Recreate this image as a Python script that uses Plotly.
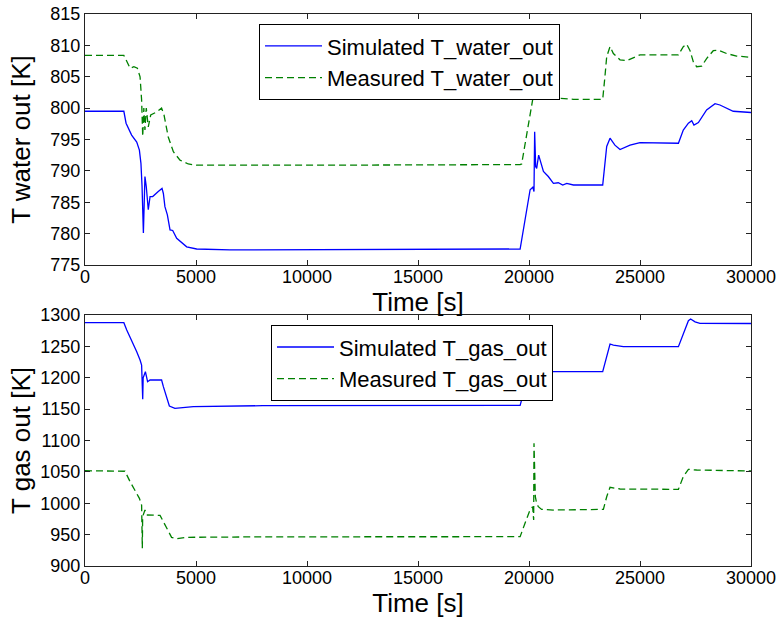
import plotly.graph_objects as go
from plotly.subplots import make_subplots

# ---- data ----
t_water_sim = [0, 1750, 1850, 2100, 2330, 2450, 2520, 2570, 2630, 2700, 2760, 2850, 2930, 3050, 3300, 3470, 3530, 3600, 3710, 3830,
               3950, 4130, 4580, 5030, 6530, 10000, 15000, 19600, 20050, 20170, 20225, 20255, 20300, 20345, 20435, 20525, 20650, 20870, 21100, 21320,
               21520, 21700, 22000, 23320, 23500, 23650, 23870, 24100, 24550, 25000, 26730, 26950, 27180, 27330, 27430, 27630, 28000, 28380, 28600, 29200, 30000]
T_water_sim = [799.5, 799.5, 797.6, 795.7, 794.6, 793.3, 791.2, 787.5, 780.1, 789.1, 787.5, 783.8, 785.9, 785.9, 786.7, 787.2, 786.4, 784.3, 783.0, 780.6,
               780.5, 779.25, 777.9, 777.55, 777.4, 777.45, 777.5, 777.55, 787.0, 787.4, 786.7, 796.25, 790.7, 790.4, 792.5, 791.2, 789.9, 789.1, 788.0, 788.1,
               787.75, 788.0, 787.75, 787.75, 793.9, 795.2, 794.1, 793.4, 794.1, 794.5, 794.4, 796.5, 797.6, 798.0, 797.3, 797.7, 799.7, 800.7, 800.5, 799.5, 799.3]

t_water_meas = [0, 1750, 1850, 2030, 2200, 2360, 2480, 2550, 2600, 2650, 2700, 2760, 2850, 2960, 3230, 3450, 3560, 3750, 3980, 4280,
                4650, 5030, 10000, 15000, 19600, 19670, 19900, 20120, 20240, 20400, 20700, 21020, 21250, 22000, 23320, 23420, 23500, 23650, 23800, 24100,
                24400, 25000, 26730, 26950, 27100, 27250, 27400, 27550, 27780, 28000, 28300, 28530, 28900, 29350, 30000]
T_water_meas = [808.4, 808.4, 807.7, 806.35, 806.6, 806.35, 805.0, 801.3, 795.5, 800.0, 796.5, 800.0, 797.0, 798.9, 799.4, 800.0, 798.9, 795.4, 793.05, 791.7,
                791.1, 790.9, 790.9, 790.9, 791.0, 791.1, 796.0, 800.2, 802.9, 802.5, 802.0, 801.8, 801.6, 801.4, 801.4, 805.0, 808.2, 809.8, 808.7, 807.7,
                807.55, 808.5, 808.5, 809.8, 810.2, 809.2, 807.4, 806.6, 806.7, 807.9, 809.15, 809.25, 808.7, 808.3, 808.1]

t_gas_sim = [0, 1750, 1880, 2100, 2330, 2480, 2550, 2600, 2620, 2720, 2820, 2930, 3450, 3530, 3680, 3800, 4050, 4880, 8000, 15000,
             19600, 19750, 20000, 20300, 21000, 23320, 23650, 23800, 24250, 26730, 26950, 27180, 27280, 27480, 27700, 30000]
T_gas_sim = [1287.8, 1287.8, 1276.1, 1260.2, 1241.5, 1228.3, 1220.3, 1165.6, 1200, 1209.7, 1193.7, 1196.4, 1196.4, 1185.8, 1169.8, 1155, 1151.3, 1153.9, 1155.5, 1155.5,
             1156, 1175.2, 1195, 1208, 1209.7, 1209.7, 1253.8, 1252, 1249.5, 1249.5, 1270.8, 1291, 1293.6, 1289, 1286.7, 1286.5]

t_gas_meas = [0, 1750, 1800, 2030, 2250, 2450, 2550, 2582, 2597, 2700, 2780, 3380, 3530, 3710, 3900, 4130, 4580, 8000, 15000, 19600,
              19820, 20045, 20165, 20210, 20225, 20255, 20285, 20345, 20420, 20570, 21100, 23350, 23500, 23650, 24100, 26730, 26950, 27180, 27550, 30000]
T_gas_meas = [1051.9, 1051.9, 1051, 1034.4, 1021.1, 1007.8, 997.2, 928.2, 978.6, 989.2, 981.3, 980.7, 970.6, 957.4, 945.7, 943.5, 945.7, 946.5, 946.7, 946.7,
              968, 989.2, 994.5, 973.3, 1095.5, 1030, 1010.4, 999.8, 994.5, 990.2, 989.2, 990.2, 1010.4, 1025.4, 1022.7, 1022.2, 1042.3, 1054, 1053, 1051.4]

x_ticks = [0, 5000, 10000, 15000, 20000, 25000, 30000]
x_tick_labels = ["0", "5000", "10000", "15000", "20000", "25000", "30000"]
y_ticks_water = [775, 780, 785, 790, 795, 800, 805, 810, 815]
y_ticks_gas = [900, 950, 1000, 1050, 1100, 1150, 1200, 1250, 1300]

FONT = "Liberation Sans, Arial, sans-serif"
BLUE = "#0000ff"
GREEN = "#008000"

fig = make_subplots(rows=2, cols=1, vertical_spacing=0.0)

fig.add_trace(go.Scatter(x=t_water_sim, y=T_water_sim, mode="lines", name="Simulated T_water_out",
                         line=dict(color=BLUE, width=1.3), legend="legend"), row=1, col=1)
fig.add_trace(go.Scatter(x=t_water_meas, y=T_water_meas, mode="lines", name="Measured T_water_out",
                         line=dict(color=GREEN, width=1.3, dash="7px,4px"), legend="legend"), row=1, col=1)
fig.add_trace(go.Scatter(x=t_gas_sim, y=T_gas_sim, mode="lines", name="Simulated T_gas_out",
                         line=dict(color=BLUE, width=1.3), legend="legend2"), row=2, col=1)
fig.add_trace(go.Scatter(x=t_gas_meas, y=T_gas_meas, mode="lines", name="Measured T_gas_out",
                         line=dict(color=GREEN, width=1.3, dash="7px,4px"), legend="legend2"), row=2, col=1)

axis_common = dict(showline=True, linecolor="#222222", linewidth=1.3, mirror="ticks",
                   ticks="inside", ticklen=5, tickwidth=1, tickcolor="#222222",
                   showgrid=False, zeroline=False, automargin=False,
                   tickfont=dict(family=FONT, size=18, color="black"))

fig.update_xaxes(**axis_common, range=[0, 30000], tickvals=x_ticks, ticktext=x_tick_labels,
                 ticklabelstandoff=-5,
                 title=dict(text="Time [s]", font=dict(family=FONT, size=26, color="black"), standoff=2))
fig.update_yaxes(**axis_common)
fig.update_yaxes(range=[775, 815], tickvals=y_ticks_water, domain=[0.5453, 1.0],
                 title=dict(text="T water out [K]", font=dict(family=FONT, size=26, color="black"), standoff=12),
                 row=1, col=1)
fig.update_yaxes(range=[900, 1300], tickvals=y_ticks_gas, domain=[0.0, 0.4547],
                 title=dict(text="T gas out [K]", font=dict(family=FONT, size=26, color="black"), standoff=2),
                 row=2, col=1)
fig.update_xaxes(domain=[0, 1])

legend_common = dict(bgcolor="white", bordercolor="black", borderwidth=1.2,
                     font=dict(family=FONT, size=22, color="black"),
                     xanchor="left", yanchor="top", itemwidth=57)

fig.update_layout(
    width=780, height=618,
    margin=dict(l=85, r=29, t=14, b=52, autoexpand=False),
    paper_bgcolor="white", plot_bgcolor="white",
    showlegend=True,
    legend=dict(**legend_common, x=0.261, y=0.982),
    legend2=dict(**legend_common, x=0.279, y=0.4366),
)

fig.write_html("out.html")
